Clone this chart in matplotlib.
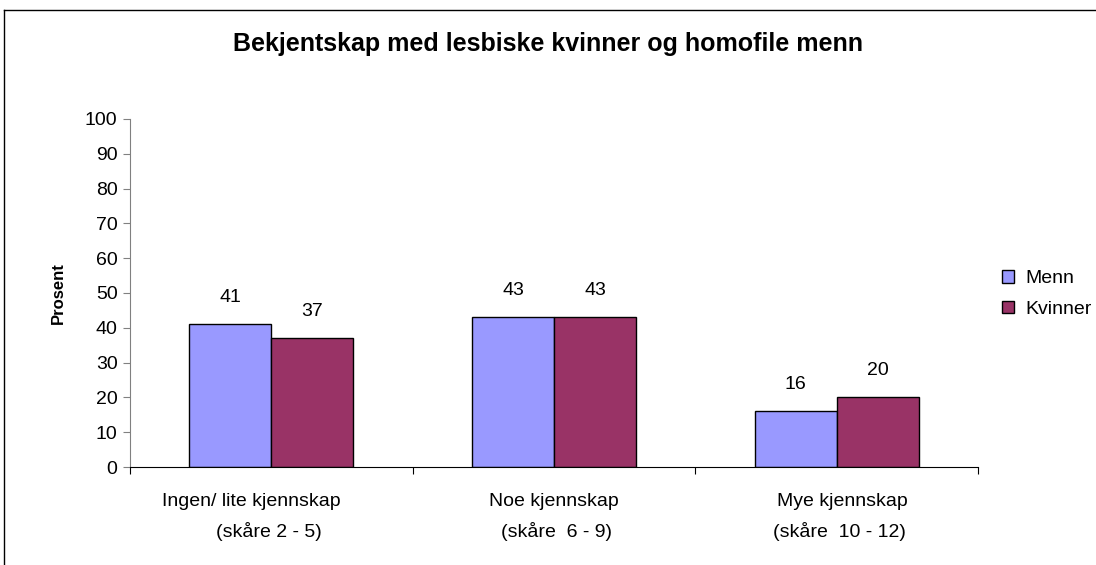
import matplotlib.pyplot as plt
import numpy as np
from matplotlib.lines import Line2D

plt.rcParams["font.family"] = ["Liberation Sans", "DejaVu Sans"]

TITLE = "Bekjentskap med lesbiske kvinner og homofile menn"
CAT_LINE1 = ["Ingen/ lite kjennskap", "Noe kjennskap", "Mye kjennskap"]
CAT_LINE2 = ["(skåre 2 - 5)", "(skåre  6 - 9)", "(skåre  10 - 12)"]
SERIES = ["Menn", "Kvinner"]
MENN = [41, 43, 16]
KVINNER = [37, 43, 20]
COLORS = ["#9999FF", "#993366"]

fig = plt.figure(figsize=(10.96, 5.65), dpi=100)
ax = fig.add_axes([130 / 1096, 1 - 467 / 565, 848 / 1096, 348 / 565])

x = np.arange(len(CAT_LINE1))
w = 0.29
for vals, off, col, name in [(MENN, -w / 2, COLORS[0], SERIES[0]),
                             (KVINNER, w / 2, COLORS[1], SERIES[1])]:
    bars = ax.bar(x + off, vals, w, color=col, edgecolor="black", linewidth=1, label=name)
    for b, v in zip(bars, vals):
        ax.annotate(f"{v}", (b.get_x() + b.get_width() / 2, v), xytext=(0, 19.5),
                    textcoords="offset points", ha="center", va="center", fontsize=14)

ax.set_xlim(-0.5, 2.5)
ax.set_ylim(0, 100)
ax.set_yticks(range(0, 101, 10))
ax.tick_params(axis="y", labelsize=14, length=5, width=0.8, color="#808080", pad=4)
ax.set_xticks([-0.5, 0.5, 1.5, 2.5])
ax.set_xticklabels([])
ax.tick_params(axis="x", length=5, width=0.8, color="black")
for s in ["top", "right"]:
    ax.spines[s].set_visible(False)
ax.spines["left"].set_color("#808080")
ax.spines["bottom"].set_color("black")

# category labels, two lines each (first group is slightly off-centre in the original)
shift1 = [-0.07, 0.0, 0.02]
shift2 = [-0.01, 0.01, 0.01]
for i, (l1, l2) in enumerate(zip(CAT_LINE1, CAT_LINE2)):
    ax.text(i + shift1[i], -0.10, l1, transform=ax.get_xaxis_transform(),
            ha="center", va="center", fontsize=14)
    ax.text(i + shift2[i], -0.185, l2, transform=ax.get_xaxis_transform(),
            ha="center", va="center", fontsize=14)

ax.set_ylabel("Prosent", fontsize=12, fontweight="bold", labelpad=14)
fig.text(0.5, 1 - 44 / 565, TITLE, ha="center", va="center", fontsize=18, fontweight="bold")

ax.legend(loc="center left", bbox_to_anchor=(1002 / 1096, 1 - 294 / 565),
          bbox_transform=fig.transFigure, frameon=False, fontsize=14,
          handlelength=0.6, handleheight=0.6, handletextpad=0.6, labelspacing=0.7,
          borderpad=0, borderaxespad=0)

# chart area border
fig.add_artist(Line2D([4 / 1096, 4 / 1096], [0, 1 - 10 / 565], color="black", linewidth=1))
fig.add_artist(Line2D([4 / 1096, 1], [1 - 10 / 565, 1 - 10 / 565], color="black", linewidth=1))

fig.savefig("out.png", dpi=100)
